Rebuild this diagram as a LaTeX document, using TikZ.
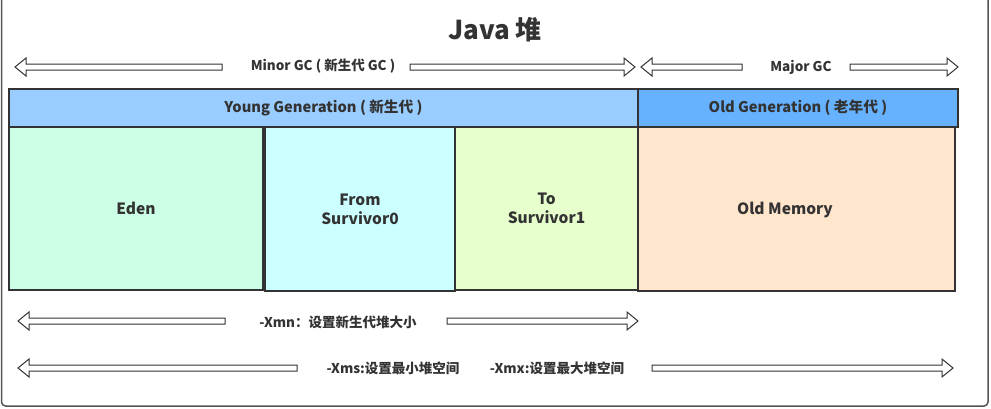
\documentclass[tikz,border=0pt]{standalone}
\usepackage{fontspec}
\setmainfont{Noto Sans CJK SC}
\definecolor{txt}{HTML}{333333}
\definecolor{frame}{HTML}{555555}
\definecolor{youngc}{HTML}{99CCFF}
\definecolor{oldc}{HTML}{66B2FF}
\definecolor{edenc}{HTML}{CCFFE6}
\definecolor{fromc}{HTML}{CCFFFF}
\definecolor{toc}{HTML}{E6FFCC}
\definecolor{oldmem}{HTML}{FFE6CC}
\tikzset{
  region/.style={draw=txt, line width=1.3pt, inner sep=0pt, text=txt, align=center,
    font=\bfseries\fontsize{15.5}{19}\selectfont},
  bar/.style={draw=txt, line width=1.3pt, inner sep=0pt, text=txt,
    font=\bfseries\fontsize{14.7}{16}\selectfont},
  lbl/.style={text=txt, inner sep=0pt, font=\bfseries\fontsize{13.5}{15}\selectfont},
  hollow/.style={draw=txt, fill=white, line width=1pt, line join=miter},
}
% \harrow{tip x}{tail x}{y}
\newcommand\harrow[3]{%
  \pgfmathsetmacro\hd{(#2-#1)/abs(#2-#1)*11}%
  \draw[hollow] (#2,#3-3) -- (#1+\hd,#3-3) -- (#1+\hd,#3-9) -- (#1,#3)
    -- (#1+\hd,#3+9) -- (#1+\hd,#3+3) -- (#2,#3+3) -- cycle;}
\begin{document}
\begin{tikzpicture}[x=1pt,y=-1pt]
\useasboundingbox (0,0) rectangle (991,408);
\draw[frame, line width=1.5pt, rounded corners=4pt] (1.5,-4) rectangle (988,406);

\node[text=txt, font=\bfseries\fontsize{26}{30}\selectfont, inner sep=0pt] (title) at (495,30) {Java 堆};

% bars
\node[bar, fill=youngc, minimum width=629, minimum height=38] (young) at (323.5,108) {Young Generation ( 新生代 )};
\node[bar, fill=oldc, minimum width=320, minimum height=38] (old) at (798,108) {Old Generation ( 老年代 )};

% regions
\node[region, fill=edenc, minimum width=254, minimum height=163] (eden) at (136,208.5) {Eden};
\node[region, fill=fromc, minimum width=190, minimum height=164] (from) at (360,209) {From\\Survivor0};
\node[region, fill=toc, minimum width=183, minimum height=163] (to) at (546.5,208.5) {To\\Survivor1};
\node[region, fill=oldmem, minimum width=317, minimum height=164] (oldmem) at (796.5,209) {};
\node[text=txt, inner sep=0pt, font=\bfseries\fontsize{15.5}{19}\selectfont] (oldlbl) at (785,210) {Old Memory};

% Minor GC
\node[lbl] (minor) at (323,66) {Minor GC ( 新生代 GC )};
\harrow{15}{222}{67}
\harrow{635}{410}{67}
% Major GC
\node[lbl] (major) at (801,67) {Major GC};
\harrow{641}{742}{67}
\harrow{958}{850}{67}
% Xmn
\node[lbl] (xmn) at (338,322) {-Xmn：设置新生代堆大小};
\harrow{18}{225}{321}
\harrow{638}{447}{321}
% Xms / Xmx
\node[lbl] (xms) at (393,368) {-Xms:设置最小堆空间};
\node[lbl] (xmx) at (557,368) {-Xmx:设置最大堆空间};
\harrow{18}{297}{368}
\harrow{953}{652}{368}
\end{tikzpicture}
\end{document}
